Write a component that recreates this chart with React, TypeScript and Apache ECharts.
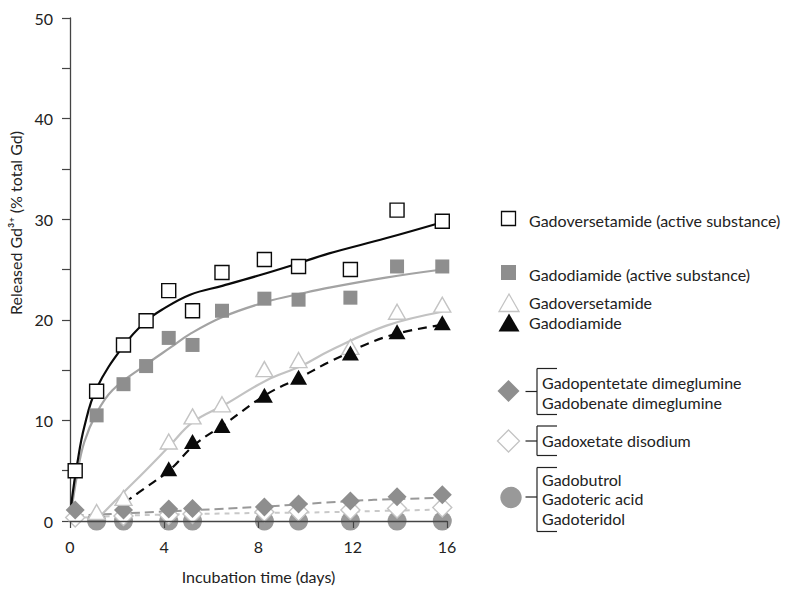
import React, { useEffect, useRef } from "react";
import * as echarts from "echarts";

// Incubation times (days) shared by all measured series
const times = [0.22, 1.13, 2.27, 3.23, 4.19, 5.2, 6.45, 8.25, 9.7, 11.9, 13.88, 15.8];

// Measured released Gd3+ (% total Gd); null = no marker
const gadoversetamideActive = [5.0, 12.9, 17.5, 19.9, 22.9, 20.9, 24.7, 26.0, 25.3, 25.0, 30.9, 29.8];
const gadodiamideActive = [null, 10.5, 13.6, 15.4, 18.2, 17.5, 20.9, 22.1, 22.0, 22.2, 25.3, 25.3];
const gadoversetamide = [null, 0.9, 2.3, null, 7.9, 10.4, 11.6, 15.1, 16.0, 17.3, 20.8, 21.5];
const gadodiamide = [null, null, null, null, 5.2, 7.9, 9.5, 12.5, 14.3, 16.7, 18.8, 19.7];
const gadopentetate = [1.1, null, 1.1, null, 1.2, 1.25, null, 1.4, 1.7, 2.0, 2.4, 2.6];
const gadoxetate = [0.35, null, 0.5, null, 0.6, 0.7, null, 0.9, 0.95, 1.1, 1.25, 1.35];
const macrocyclic = [null, 0, 0, null, 0, 0, null, 0, 0, 0, 0, 0];

// Fitted curves: [day, %]
const fitGadoversetamideActive = [
  [0, 0], [0.1, 2.5], [0.3, 5.6], [0.6, 9.3], [1.13, 13.2], [2.3, 17.5], [3.2, 19.8],
  [3.9, 21.0], [5.1, 22.5], [6.5, 23.4], [8, 24.4], [9.4, 25.4], [11, 26.6], [13.4, 28.1], [15.8, 29.7],
];
const fitGadodiamideActive = [
  [0, 0], [0.3, 4.6], [0.6, 7.8], [1.1, 10.6], [1.8, 13.0], [3.2, 15.5], [4.3, 17.3],
  [5.1, 18.6], [6.5, 20.3], [8.35, 21.8], [9.8, 22.6], [11, 23.2], [13.4, 24.2], [15.8, 25.0],
];
const fitGadoversetamide = [
  [1.2, 0.3], [2.3, 2.9], [3.2, 5.0], [4.2, 7.4], [5.2, 9.8], [6.6, 11.6], [8.35, 14.0],
  [9.8, 15.4], [11, 16.9], [13.4, 19.4], [15.8, 20.8],
];
const fitGadodiamide = [
  [2.3, 1.8], [3.2, 3.3], [4.2, 5.0], [5.3, 7.6], [6.6, 9.7], [8.35, 12.6], [9.8, 14.3],
  [11, 15.8], [13.4, 18.3], [15.8, 19.5],
];
const fitGadopentetate = [[0.2, 0.55], [2.5, 0.78], [8, 1.4], [10.3, 1.75], [12.9, 2.1], [15.8, 2.3]];
const fitGadoxetate = [[0.2, 0.3], [2.5, 0.55], [8, 0.8], [10.3, 0.85], [15.8, 1.15]];

// Tick labels
const xTicks = [0, 4, 8, 12, 16];
const yTicks = [0, 10, 20, 30, 40, 50];

const legendTop = [
  "Gadoversetamide (active substance)",
  "Gadodiamide (active substance)",
  "Gadoversetamide",
  "Gadodiamide",
];
const groupA = ["Gadopentetate dimeglumine", "Gadobenate dimeglumine"];
const groupB = ["Gadoxetate disodium"];
const groupC = ["Gadobutrol", "Gadoteric acid", "Gadoteridol"];

const FONT = "Lato, 'Noto Sans', sans-serif";
const BLACK = "#0a0a0a";
const MID = "#8e8e8e";
const LIGHT = "#c4c4c4";
const TEXT = "#222";

const pts = (vals: (number | null)[]) =>
  times.map((t, i) => (vals[i] == null ? null : [t, vals[i]])).filter((p) => p !== null);

export default function App() {
  const ref = useRef<HTMLDivElement>(null);
  useEffect(() => {
    if (!ref.current) return;
    const chart = echarts.init(ref.current, undefined, { renderer: "svg" });

    const fitLine = (data: number[][], color: string, width: number, type: any, z = 2) => ({
      type: "line",
      data,
      smooth: 0.4,
      showSymbol: false,
      symbol: "none",
      clip: false,
      z,
      lineStyle: { color, width, type },
      silent: true,
    });
    const marks = (data: any[], symbol: string, size: any, fill: string, stroke: string | null, z: number) => ({
      type: "scatter",
      data,
      symbol,
      symbolSize: size,
      clip: false,
      z,
      itemStyle: stroke
        ? { color: fill, borderColor: stroke, borderWidth: 1.4, opacity: 1 }
        : { color: fill, opacity: 1 },
      silent: true,
    });

    const txt = (x: number, y: number, text: string) => ({
      type: "text",
      x,
      y,
      style: { text, fill: TEXT, font: `16px ${FONT}`, textAlign: "left", textVerticalAlign: "middle" },
    });
    const line = (x1: number, y1: number, x2: number, y2: number) => ({
      type: "line",
      shape: { x1, y1, x2, y2 },
      style: { stroke: "#222", lineWidth: 1.2 },
    });
    const bracket = (top: number, bottom: number, mid: number) => [
      line(525.5, mid, 537, mid),
      line(537, top, 537, bottom),
      line(537, top, 557, top),
      line(537, bottom, 557, bottom),
    ];

    const graphic: any[] = [
      {
        type: "text",
        x: 15,
        y: 223,
        rotation: Math.PI / 2,
        style: {
          text: "Released Gd³⁺ (% total Gd)",
          fill: TEXT,
          font: `16px ${FONT}`,
          textAlign: "center",
          textVerticalAlign: "middle",
        },
      },
      // top legend
      { type: "rect", shape: { x: 501.5, y: 211.5, width: 14, height: 14 }, style: { fill: "#fff", stroke: BLACK, lineWidth: 1.3 } },
      txt(529, 220, legendTop[0]),
      { type: "rect", shape: { x: 501, y: 265, width: 15, height: 15 }, style: { fill: MID } },
      txt(529, 274, legendTop[1]),
      { type: "polygon", shape: { points: [[509, 294], [519, 311.5], [499, 311.5]] }, style: { fill: "#fff", stroke: LIGHT, lineWidth: 1.3 } },
      txt(529, 302, legendTop[2]),
      { type: "polygon", shape: { points: [[509, 313.5], [519.5, 331.5], [498.5, 331.5]] }, style: { fill: BLACK } },
      txt(529, 322, legendTop[3]),
      // group legends
      { type: "polygon", shape: { points: [[508.5, 380], [519.5, 391], [508.5, 402], [497.5, 391]] }, style: { fill: MID } },
      ...bracket(368.5, 414.5, 391.5),
      txt(542, 382.5, groupA[0]),
      txt(542, 402.5, groupA[1]),
      { type: "polygon", shape: { points: [[508.5, 430], [519.5, 441], [508.5, 452], [497.5, 441]] }, style: { fill: "#fff", stroke: LIGHT, lineWidth: 1.3 } },
      ...bracket(426, 455.5, 441),
      txt(542, 440, groupB[0]),
      { type: "circle", shape: { cx: 511, cy: 497.5, r: 10.7 }, style: { fill: "#999" } },
      ...bracket(467.5, 531.5, 497),
      txt(542, 479, groupC[0]),
      txt(542, 498, groupC[1]),
      txt(542, 518, groupC[2]),
    ];

    chart.setOption({
      animation: false,
      grid: { left: 70, right: 342, top: 18, bottom: 69, containLabel: false },
      xAxis: {
        type: "value",
        min: xTicks[0],
        max: xTicks[xTicks.length - 1],
        interval: 4,
        z: 10,
        name: "Incubation time (days)",
        nameLocation: "middle",
        nameGap: 47,
        nameTextStyle: { fontFamily: FONT, fontSize: 16, color: TEXT },
        axisLine: { onZero: false, lineStyle: { color: "#444", width: 1.3 } },
        axisTick: { show: true, length: 7, lineStyle: { color: "#444", width: 1.2 } },
        axisLabel: { margin: 17, fontFamily: FONT, fontSize: 16, color: TEXT },
        splitLine: { show: false },
      },
      yAxis: {
        type: "value",
        min: yTicks[0],
        max: yTicks[yTicks.length - 1],
        interval: 5,
        axisLine: { show: true, lineStyle: { color: "#444", width: 1.3 } },
        axisTick: { show: true, length: 8, lineStyle: { color: "#444", width: 1.2 } },
        axisLabel: {
          margin: 17,
          fontFamily: FONT,
          fontSize: 16,
          color: TEXT,
          formatter: (v: number) => (yTicks.includes(v) ? String(v) : ""),
        },
        splitLine: { show: false },
      },
      graphic,
      series: [
        fitLine(fitGadoxetate, "#c8c8c8", 2, [5, 5]),
        fitLine(fitGadopentetate, "#999", 2, [9, 5]),
        fitLine(fitGadoversetamide, "#c2c2c2", 2.2, "solid"),
        fitLine(fitGadodiamide, BLACK, 2.2, [9, 6]),
        fitLine(fitGadodiamideActive, "#a3a3a3", 2.2, "solid"),
        fitLine(fitGadoversetamideActive, BLACK, 2.2, "solid"),
        marks(pts(macrocyclic), "circle", 19, "#999", null, 3),
        marks(pts(gadoxetate), "diamond", 19, "#fff", LIGHT, 4),
        marks(pts(gadopentetate), "diamond", 19, MID, null, 5),
        marks(pts(gadoversetamide), "triangle", [17, 15], "#fff", LIGHT, 6),
        marks(pts(gadodiamide), "triangle", [17, 15], BLACK, null, 6),
        marks(pts(gadodiamideActive), "rect", 14, MID, null, 6),
        marks(pts(gadoversetamideActive), "rect", 14, "#fff", BLACK, 7),
      ],
    });
    return () => chart.dispose();
  }, []);
  return <div ref={ref} style={{ position: "fixed", left: 0, top: 0, width: 789, height: 590, background: "#fff" }} />;
}
